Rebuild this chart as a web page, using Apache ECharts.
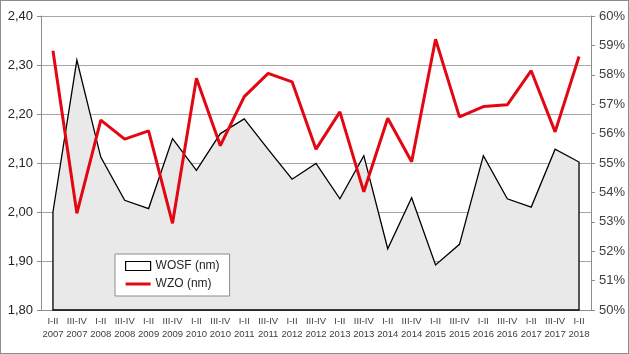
<!DOCTYPE html>
<html>
<head>
<meta charset="utf-8">
<script src="https://cdn.jsdelivr.net/npm/echarts@6/dist/echarts.min.js"></script>
<style>
  html, body { margin: 0; padding: 0; background: #fff; }
  #chart { width: 629px; height: 354px; box-sizing: border-box; border: 1px solid #8c8c8c; }
</style>
</head>
<body>
<div id="chart"></div>
<script>
  // categories (half-year periods)
  const periods = ['I-II', 'III-IV', 'I-II', 'III-IV', 'I-II', 'III-IV', 'I-II', 'III-IV', 'I-II', 'III-IV', 'I-II', 'III-IV',
    'I-II', 'III-IV', 'I-II', 'III-IV', 'I-II', 'III-IV', 'I-II', 'III-IV', 'I-II', 'III-IV', 'I-II'];
  const years = ['2007', '2007', '2008', '2008', '2009', '2009', '2010', '2010', '2011', '2011', '2012', '2012',
    '2013', '2013', '2014', '2014', '2015', '2015', '2016', '2016', '2017', '2017', '2018'];
  // WOSF (nm), left axis
  const wosf = [2.00, 2.31, 2.112, 2.024, 2.007, 2.150, 2.085, 2.160, 2.190, 2.128, 2.067, 2.099,
    2.027, 2.115, 1.925, 2.029, 1.892, 1.934, 2.115, 2.027, 2.010, 2.128, 2.102];
  // WZO (nm), right axis, %
  const wzo = [58.82, 53.29, 56.46, 55.81, 56.09, 52.95, 57.88, 55.59, 57.26, 58.05, 57.76, 55.47,
    56.74, 54.02, 56.52, 55.04, 59.21, 56.57, 56.92, 56.98, 58.14, 56.06, 58.62];

  const categories = periods.map((p, i) => p + '\n' + years[i]);
  const leftMin = 1.8;

  var myChart = echarts.init(document.getElementById('chart'));
  const option = {
    animation: false,
    grid: { left: 40, right: 37, top: 15, bottom: 43 },
    legend: {
      orient: 'vertical',
      left: 114, top: 253,
      backgroundColor: '#fff',
      borderColor: '#8c8c8c', borderWidth: 1,
      padding: [6, 10, 6, 10],
      itemGap: 6,
      itemWidth: 25, itemHeight: 9,
      textStyle: { fontFamily: 'Liberation Sans', fontSize: 12, color: '#262626' },
      data: [
        { name: 'WOSF (nm)', icon: 'rect', itemStyle: { color: '#fff', borderColor: '#000', borderWidth: 1.2 } },
        { name: 'WZO (nm)', icon: 'path://M0 0H25V3H0Z', itemStyle: { color: '#e30613', borderWidth: 0 } }
      ]
    },
    xAxis: {
      type: 'category',
      data: categories,
      boundaryGap: true,
      axisLine: { lineStyle: { color: '#8c8c8c', width: 1 } },
      axisTick: { length: 4, lineStyle: { color: '#8c8c8c' } },
      axisLabel: { interval: 0, fontFamily: 'Liberation Sans', fontSize: 9.5, color: '#404040', lineHeight: 13, margin: 5 }
    },
    yAxis: [
      {
        type: 'value', min: 1.8, max: 2.4, interval: 0.1,
        axisLine: { show: true, lineStyle: { color: '#8c8c8c' } },
        axisTick: { show: true, length: 4, lineStyle: { color: '#8c8c8c' } },
        splitLine: { lineStyle: { color: '#a6a6a6' } },
        axisLabel: {
          fontFamily: 'Liberation Sans', fontSize: 13, color: '#262626', margin: 8,
          formatter: v => v.toFixed(2).replace('.', ',')
        }
      },
      {
        type: 'value', min: 50, max: 60, interval: 1,
        axisLine: { show: true, lineStyle: { color: '#8c8c8c' } },
        axisTick: { show: true, length: 4, lineStyle: { color: '#8c8c8c' } },
        splitLine: { show: false },
        axisLabel: { fontFamily: 'Liberation Sans', fontSize: 13, color: '#404040', margin: 8, formatter: '{value}%' }
      }
    ],
    series: [
      {
        name: 'WOSF (nm)',
        type: 'custom',
        yAxisIndex: 0,
        data: wosf.map((v, i) => [i, v]),
        renderItem: function (params, api) {
          if (params.dataIndex !== 0) return;
          const pts = wosf.map((v, i) => api.coord([i, v]));
          const last = wosf.length - 1;
          pts.push(api.coord([last, leftMin]));
          pts.push(api.coord([0, leftMin]));
          return {
            type: 'polygon',
            shape: { points: pts },
            style: { fill: '#e9e9e9', stroke: '#000', lineWidth: 1.3 }
          };
        },
        z: 1
      },
      {
        name: 'WZO (nm)',
        type: 'line',
        yAxisIndex: 1,
        data: wzo,
        symbol: 'none',
        lineStyle: { color: '#e30613', width: 3 },
        itemStyle: { color: '#e30613' },
        z: 3
      }
    ]
  };
  myChart.setOption(option);
</script>
</body>
</html>
